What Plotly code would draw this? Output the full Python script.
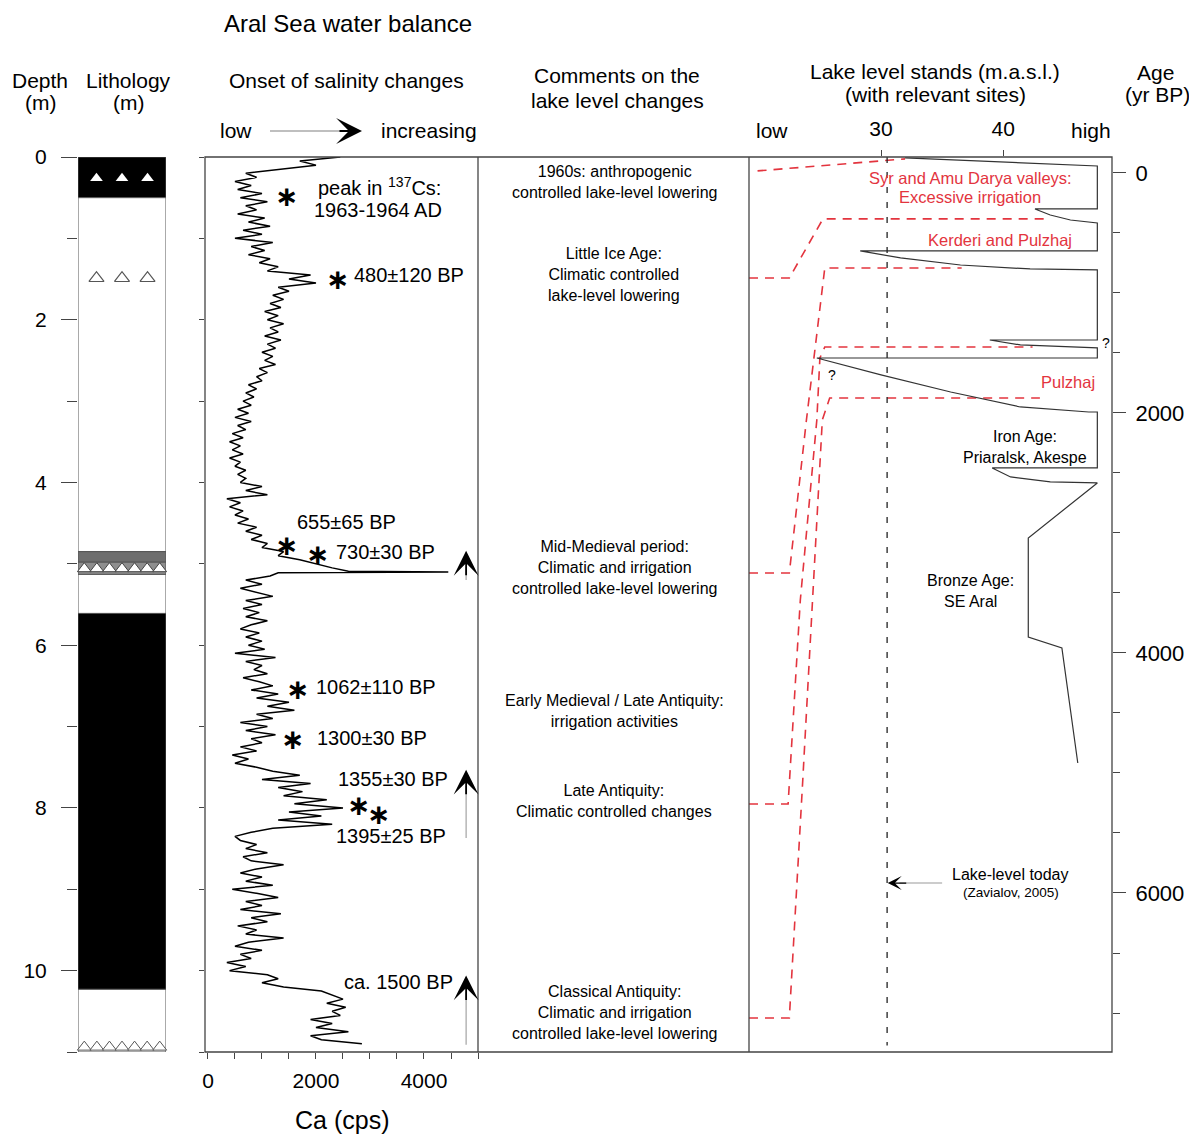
import plotly.graph_objects as go

W, H = 1197, 1137
# the page body adds an 8 px margin, so the figure itself is drawn 8 px smaller
FW, FH = W - 8, H - 8
FONT = "Liberation Sans, Arial, sans-serif"

# ---- Ca XRF scan: depth (m) / Ca (cps) ----
ca_depth = [
    0.00, 0.05, 0.10, 0.15, 0.20, 0.25, 0.30, 0.35, 0.40, 0.45,
    0.50, 0.55, 0.60, 0.65, 0.70, 0.75, 0.80, 0.85, 0.90, 0.95,
    1.00, 1.05, 1.10, 1.15, 1.20, 1.25, 1.30, 1.35, 1.40, 1.45,
    1.50, 1.55, 1.60, 1.65, 1.70, 1.75, 1.80, 1.85, 1.90, 1.95,
    2.00, 2.05, 2.10, 2.15, 2.20, 2.25, 2.30, 2.35, 2.40, 2.45,
    2.50, 2.55, 2.60, 2.65, 2.70, 2.75, 2.80, 2.85, 2.90, 2.95,
    3.00, 3.05, 3.10, 3.15, 3.20, 3.25, 3.30, 3.35, 3.40, 3.45,
    3.50, 3.55, 3.60, 3.65, 3.70, 3.75, 3.80, 3.85, 3.90, 3.95,
    4.00, 4.05, 4.10, 4.15, 4.20, 4.25, 4.30, 4.35, 4.40, 4.45,
    4.50, 4.55, 4.60, 4.65, 4.70, 4.75, 4.80, 4.85, 4.90, 4.95,
    5.00, 5.05, 5.09, 5.10, 5.11, 5.15, 5.20, 5.25, 5.30, 5.35,
    5.40, 5.45, 5.50, 5.55, 5.60, 5.65, 5.70, 5.75, 5.80, 5.85,
    5.90, 5.95, 6.00, 6.05, 6.10, 6.15, 6.20, 6.25, 6.30, 6.35,
    6.40, 6.45, 6.50, 6.55, 6.60, 6.65, 6.70, 6.75, 6.80, 6.85,
    6.90, 6.95, 7.00, 7.05, 7.10, 7.15, 7.20, 7.25, 7.30, 7.35,
    7.40, 7.45, 7.50, 7.55, 7.60, 7.65, 7.70, 7.75, 7.80, 7.85,
    7.90, 7.95, 8.00, 8.05, 8.10, 8.15, 8.20, 8.25, 8.30, 8.35,
    8.40, 8.45, 8.50, 8.55, 8.60, 8.65, 8.70, 8.75, 8.80, 8.85,
    8.90, 8.95, 9.00, 9.05, 9.10, 9.15, 9.20, 9.25, 9.30, 9.35,
    9.40, 9.45, 9.50, 9.55, 9.60, 9.65, 9.70, 9.75, 9.80, 9.85,
    9.90, 9.95, 10.00, 10.05, 10.10, 10.15, 10.20, 10.25, 10.30, 10.35,
    10.40, 10.45, 10.50, 10.55, 10.60, 10.65, 10.70, 10.75, 10.80, 10.85,
    10.90,
]
ca_cps = [
    2450, 1700, 2000, 1300, 700, 900, 500, 800, 550, 1000,
    600, 1100, 700, 900, 550, 1050, 750, 1150, 650, 1000,
    500, 1200, 800, 1050, 750, 1150, 950, 1300, 1100, 1900,
    1500, 2000, 1300, 1500, 1200, 1400, 1150, 1350, 1050, 1300,
    1100, 1400, 1150, 1300, 1050, 1350, 1100, 1250, 1000, 1200,
    1050, 1250, 950, 1100, 900, 1000, 750, 900, 700, 850,
    650, 800, 550, 750, 500, 800, 550, 700, 450, 650,
    400, 600, 450, 650, 400, 600, 500, 700, 550, 700,
    600, 1000, 700, 1100, 350, 600, 400, 650, 500, 750,
    550, 900, 700, 1000, 800, 1100, 1000, 1400, 1300, 1700,
    2000, 2300, 2600, 4450, 1300, 1150, 700, 1000, 600, 900,
    1200, 700, 1000, 650, 950, 700, 1100, 800, 600, 950,
    700, 1000, 750, 1050, 500, 1250, 700, 1000, 850, 1100,
    650, 950, 1200, 800, 1300, 900, 1500, 1100, 1600, 900,
    1200, 600, 1100, 700, 1250, 800, 1000, 600, 900, 450,
    750, 500, 900, 1200, 1700, 1000, 1900, 1300, 1750, 1400,
    2200, 1600, 2500, 1500, 2100, 1300, 2300, 1200, 800, 500,
    600, 900, 700, 1100, 650, 800, 1400, 900, 600, 1000,
    700, 1200, 450, 900, 1300, 700, 1000, 600, 1350, 800,
    1100, 550, 900, 700, 1400, 750, 500, 1000, 600, 800,
    350, 700, 400, 1100, 1300, 1000, 1400, 2100, 2300, 2500,
    2200, 2550, 2300, 2450, 1900, 2300, 2000, 2600, 1900, 2100,
    2850,
]

# ---- lithology ----
litho_top = [0.0, 0.5, 4.85, 4.98, 5.13, 5.61, 10.23]
litho_base = [0.5, 4.85, 4.98, 5.13, 5.61, 10.23, 11.0]
litho_kind = ["dark", "light", "mid", "grey", "light", "dark", "light"]
tri_depth = [0.26, 1.49, 5.06, 10.94]
tri_count = [3, 3, 7, 7]

# ---- dates ----
star_depth = [0.48, 1.50, 4.77, 4.89, 6.54, 7.16, 7.97, 8.08]
star_ca = [1460, 2390, 1460, 2020, 1650, 1570, 2780, 3150]
date_text = ["peak in <sup>137</sup>Cs:", "1963-1964 AD", "480±120 BP", "655±65 BP",
             "730±30 BP", "1062±110 BP", "1300±30 BP", "1355±30 BP", "1395±25 BP",
             "ca. 1500 BP"]
date_depth = [0.36, 0.65, 1.45, 4.48, 4.86, 6.52, 7.14, 7.64, 8.34, 10.14]
date_ca = [3185, 3150, 3720, 2560, 3280, 3110, 3040, 3430, 3390, 3520]

# onset arrows (depth from -> to)
onset_from = [5.20, 8.37, 10.91]
onset_to = [4.84, 7.53, 10.06]

# ---- comments ----
comment_text = [
    "1960s: anthropogenic<br>controlled lake-level lowering",
    "Little Ice Age:<br>Climatic controlled<br>lake-level lowering",
    "Mid-Medieval period:<br>Climatic and irrigation<br>controlled lake-level lowering",
    "Early Medieval / Late Antiquity:<br>irrigation activities",
    "Late Antiquity:<br>Climatic controlled changes",
    "Classical Antiquity:<br>Climatic and irrigation<br>controlled lake-level lowering",
]
comment_depth = [0.31, 1.45, 5.05, 6.81, 7.91, 10.52]

# ---- lake level stands (m a.s.l.) vs age (yr BP) ----
lake_level = [31.97, 47.7, 47.7, 42.6, 43.85, 45.5, 47.7, 47.7, 28.3, 31.6, 36.5, 42.2,
              47.7, 47.7, 38.9, 41.4, 47.7, 47.7, 24.75, 30.0, 35.7, 41.4, 47.0, 47.7,
              47.7, 39.1, 40.6, 43.85, 47.7, 42.05, 42.05, 44.8, 46.1]
lake_age = [-125, -58, 300, 300, 350, 392, 417, 650, 650, 708, 767, 800,
            808, 1392, 1392, 1433, 1458, 1542, 1542, 1683, 1825, 1950, 1992, 1992,
            2458, 2458, 2533, 2575, 2583, 3042, 3867, 3958, 4917]

red_level = [
    [19.9, 31.97],
    [19.2, 22.5, 25.25, 43.85],
    [19.2, 22.5, 23.9, 25.4, 36.6],
    [19.2, 22.4, 23.4, 24.75, 25.0, 25.4, 42.4],
    [19.2, 22.5, 23.6, 25.2, 25.8, 43.0],
]
red_age = [
    [-17, -117],
    [875, 875, 383, 383],
    [3333, 3333, 2058, 792, 792],
    [5258, 5258, 3558, 2058, 1542, 1450, 1450],
    [7042, 7042, 5058, 2058, 1875, 1875],
]
today_level = 30.5

RED = "#e3343e"
EDGE = "#444444"


def px(x):
    return (x - 8) / FW


def py(y):
    return 1 - (y - 8) / FH


fig = go.Figure()

# Ca curve
fig.add_trace(go.Scatter(x=ca_cps, y=ca_depth, xaxis="x2", yaxis="y2", mode="lines",
                         line=dict(color="black", width=1.5), hoverinfo="skip"))

# lithology triangles
tri_style = [
    dict(color="white", size=11, line=dict(width=0)),
    dict(color="white", size=13, line=dict(color="#555", width=1.2)),
    dict(color="white", size=12, line=dict(color="#444", width=1)),
    dict(color="white", size=12, line=dict(color="#555", width=1)),
]
for d, n, st in zip(tri_depth, tri_count, tri_style):
    sp = 0.29 if n == 3 else 1 / 7
    xs = [0.5 + (i - (n - 1) / 2) * sp for i in range(n)]
    fig.add_trace(go.Scatter(x=xs, y=[d] * n, xaxis="x", yaxis="y", mode="markers",
                             marker=dict(symbol="triangle-up", **st), hoverinfo="skip",
                             cliponaxis=False))

# lake level lines
for lv, ag in zip(red_level, red_age):
    fig.add_trace(go.Scatter(x=lv, y=ag, xaxis="x3", yaxis="y3", mode="lines",
                             line=dict(color=RED, width=1.6, dash="9px,7px"), hoverinfo="skip"))
fig.add_trace(go.Scatter(x=lake_level, y=lake_age, xaxis="x3", yaxis="y3", mode="lines",
                         line=dict(color="#333", width=1.2), hoverinfo="skip"))
fig.add_trace(go.Scatter(x=[today_level, today_level], y=[-133, 7270], xaxis="x3", yaxis="y3",
                         mode="lines", line=dict(color="#222", width=1.3, dash="6px,9px"),
                         hoverinfo="skip"))

# lithology blocks
kind_color = {"dark": "black", "light": "white", "mid": "#6e6e6e", "grey": "#8e8e8e"}
for t, b, k in zip(litho_top, litho_base, litho_kind):
    fig.add_shape(type="rect", xref="x", yref="y", x0=0, x1=1, y0=t, y1=b,
                  fillcolor=kind_color[k], line=dict(color="#555", width=1), layer="below")

# panel frames
fig.add_shape(type="rect", xref="paper", yref="paper", x0=px(205), x1=px(1112),
              y0=py(1052), y1=py(157), line=dict(color=EDGE, width=1.3))
for xv in [478, 749]:
    fig.add_shape(type="line", xref="paper", yref="paper", x0=px(xv), x1=px(xv),
                  y0=py(1052), y1=py(157), line=dict(color=EDGE, width=1.3))

ann = []


def text(x, y, s, size, xref="paper", yref="paper", color="black", xanchor="center", family=FONT):
    ann.append(dict(x=x, y=y, xref=xref, yref=yref, text=s, showarrow=False,
                    font=dict(family=family, size=size, color=color),
                    xanchor=xanchor, yanchor="middle"))


def head(x, y, xref, yref, dx, dy, size=2.2, width=1.1):
    ann.append(dict(x=x, y=y, xref=xref, yref=yref, ax=dx, ay=dy, axref="pixel", ayref="pixel",
                    text="", showarrow=True, arrowhead=3, arrowsize=size, arrowwidth=width,
                    arrowcolor="black"))


# headers
text(px(348), py(23), "Aral Sea water balance", 24)
text(px(40), py(80), "Depth", 21)
text(px(40), py(103), "(m)", 21)
text(px(128), py(80), "Lithology", 21)
text(px(128), py(103), "(m)", 21)
text(px(346), py(80), "Onset of salinity changes", 21)
text(px(236), py(131), "low", 21)
text(px(429), py(131), "increasing", 21)
text(px(617), py(76), "Comments on the", 21)
text(px(617), py(100), "lake level changes", 21)
text(px(935), py(71), "Lake level stands (m.a.s.l.)", 21)
text(px(935), py(95), "(with relevant sites)", 21)
text(px(1155), py(72), "Age", 21)
text(px(1157), py(95), "(yr BP)", 21)
text(px(772), py(131), "low", 21)
text(px(1091), py(131), "high", 21)
text(px(342), py(1120), "Ca (cps)", 25)

# salinity arrow in header
fig.add_shape(type="line", xref="paper", yref="paper", x0=px(270), x1=px(345),
              y0=py(131), y1=py(131), line=dict(color="#aaa", width=1.3))
head(px(362), py(131), "paper", "paper", -24, 0, size=2.4, width=1.8)

# dates
for c, d in zip(star_ca, star_depth):
    text(c, d, "<b>∗</b>", 28, "x2", "y2", family="DejaVu Sans")
for c, d, s in zip(date_ca, date_depth, date_text):
    text(c, d, s, 20, "x2", "y2")

# onset arrows
for a, b in zip(onset_from, onset_to):
    fig.add_shape(type="line", xref="x2", yref="y2", x0=4780, x1=4780, y0=a, y1=b + 0.2,
                  line=dict(color="#aaa", width=1.3))
    head(4780, b, "x2", "y2", 0, 26, size=2.3, width=1.8)

# comments
for s, d in zip(comment_text, comment_depth):
    text(px(614), d, s, 16, "paper", "y2")

# lake panel labels
text(37.3, 42, "Syr and Amu Darya valleys:", 16.5, "x3", "y3", color=RED)
text(37.3, 200, "Excessive irrigation", 16.5, "x3", "y3", color=RED)
text(39.75, 558, "Kerderi and Pulzhaj", 16.5, "x3", "y3", color=RED)
text(45.3, 1742, "Pulzhaj", 16.5, "x3", "y3", color=RED)
text(41.8, 2200, "Iron Age:", 16, "x3", "y3")
text(41.8, 2367, "Priaralsk, Akespe", 16, "x3", "y3")
text(37.3, 3400, "Bronze Age:", 16, "x3", "y3")
text(37.3, 3575, "SE Aral", 16, "x3", "y3")
text(48.4, 1417, "?", 14, "x3", "y3")
text(26.0, 1683, "?", 14, "x3", "y3")
text(40.6, 5850, "Lake-level today", 16, "x3", "y3")
text(40.6, 6000, "(Zavialov, 2005)", 13.5, "x3", "y3")
fig.add_shape(type="line", xref="x3", yref="y3", x0=31.5, x1=35.0, y0=5917, y1=5917,
              line=dict(color="#999", width=1.1))
head(30.55, 5917, "x3", "y3", 20, 0, size=1.8, width=1.3)

ca_ticks = list(range(0, 5001, 500))
ca_labels = [str(v) if v % 2000 == 0 else "" for v in ca_ticks]

axis_common = dict(showgrid=False, zeroline=False, showline=False, ticks="outside",
                   tickcolor=EDGE, tickwidth=1.2, fixedrange=True, automargin=False)

fig.update_layout(
    width=FW, height=FH, autosize=False, showlegend=False,
    margin=dict(l=0, r=0, t=0, b=0, pad=0),
    paper_bgcolor="white", plot_bgcolor="white",
    font=dict(family=FONT, color="black"),
    annotations=ann,
    xaxis=dict(domain=[px(78), px(166)], range=[0, 1], anchor="y", visible=False,
               fixedrange=True, automargin=False),
    yaxis=dict(domain=[py(1052), py(157)], range=[11, 0], anchor="x", tick0=0, dtick=2,
               ticklen=16, tickfont=dict(size=21), ticklabelstandoff=10,
               minor=dict(dtick=1, tick0=0, ticklen=10, ticks="outside", tickcolor=EDGE, tickwidth=1.2),
               **axis_common),
    xaxis2=dict(domain=[px(205), px(478)], range=[-55, 5000], anchor="y2", tickvals=ca_ticks,
                ticktext=ca_labels, ticklen=6, tickfont=dict(size=21), ticklabelstandoff=4,
                **axis_common),
    yaxis2=dict(domain=[py(1052), py(157)], range=[11, 0], anchor="x2", dtick=1, tick0=0,
                ticklen=5, showticklabels=False, **axis_common),
    xaxis3=dict(domain=[px(749), px(1112)], range=[19.2, 48.9], anchor="y3", side="top",
                tickvals=[30, 40], ticklen=6, tickfont=dict(size=21), ticklabelstandoff=6,
                **axis_common),
    yaxis3=dict(domain=[py(1052), py(157)], range=[7325, -133], anchor="x3", side="right",
                tick0=0, dtick=2000, ticklen=13, tickfont=dict(size=22), ticklabelstandoff=5,
                minor=dict(dtick=500, tick0=0, ticklen=7, ticks="outside", tickcolor=EDGE, tickwidth=1.2),
                **axis_common),
)

fig.write_html("out.html")
